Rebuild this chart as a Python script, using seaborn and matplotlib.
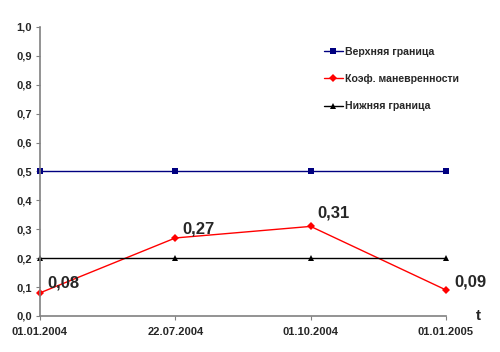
import pandas as pd
import seaborn as sns
import matplotlib
matplotlib.use('Agg')
import matplotlib.pyplot as plt
from matplotlib.ticker import FuncFormatter

dates = ["01.01.2004", "22.07.2004", "01.10.2004", "01.01.2005"]
upper = [0.5, 0.5, 0.5, 0.5]
coef = [0.08, 0.27, 0.31, 0.09]
lower = [0.2, 0.2, 0.2, 0.2]
labels = ["Верхняя граница", "Коэф. маневренности", "Нижняя граница"]

sns.set_style("white")
plt.rcParams['font.family'] = ['Liberation Sans', 'DejaVu Sans']
plt.rcParams['font.weight'] = 'bold'

fig = plt.figure(figsize=(5, 3.52), dpi=100)
ax = fig.add_axes([0.08, 0.1023, 0.812, 0.8210])

pos = list(range(len(dates)))
sns.lineplot(x=pos, y=upper, color='#000080', marker='s', markersize=4.5, linewidth=1,
             markeredgewidth=0, label=labels[0], ax=ax, clip_on=False)
sns.lineplot(x=pos, y=coef, color='#ff0000', marker='D', markersize=4, linewidth=1,
             markeredgewidth=0, label=labels[1], ax=ax, clip_on=False)
sns.lineplot(x=pos, y=lower, color='#000000', marker='^', markersize=4.5, linewidth=1,
             markeredgewidth=0, label=labels[2], ax=ax, clip_on=False)

offsets = [(5, 7), (5, 6.5), (5, 10), (6, 6)]
for x, y, off in zip(pos, coef, offsets):
    ax.annotate(f"{y:.2f}".replace('.', ','), (x, y), xytext=off, textcoords='offset points',
                fontsize=12, fontweight='bold', ha='left', va='center')

ax.set_xlim(0, 3)
ax.set_ylim(0, 1.0)
ax.set_xticks(pos)
ax.set_xticklabels(dates)
ax.set_yticks([i / 10 for i in range(11)])
ax.yaxis.set_major_formatter(FuncFormatter(lambda v, p: f"{v:.1f}".replace('.', ',')))
ax.tick_params(axis='both', labelsize=8, length=3, width=0.8, color='#808080', direction='out',
               left=True, bottom=True)
for lbl in ax.get_xticklabels() + ax.get_yticklabels():
    lbl.set_fontweight('bold')
ax.tick_params(axis='x', pad=5)
ax.tick_params(axis='y', pad=3)

for s in ['top', 'right']:
    ax.spines[s].set_visible(False)
for s in ['left', 'bottom']:
    ax.spines[s].set_color('#808080')
    ax.spines[s].set_linewidth(1.2)

fig.text(0.956, 0.083, "t", fontsize=11, fontweight='bold', ha='center', va='bottom')

leg = ax.legend(loc='upper left', bbox_to_anchor=(0.675, 0.965), frameon=False, fontsize=7.6,
                handlelength=1.8, handletextpad=0.2, labelspacing=1.65)
for t in leg.get_texts():
    t.set_fontweight('bold')

fig.savefig("out.png", dpi=100)
